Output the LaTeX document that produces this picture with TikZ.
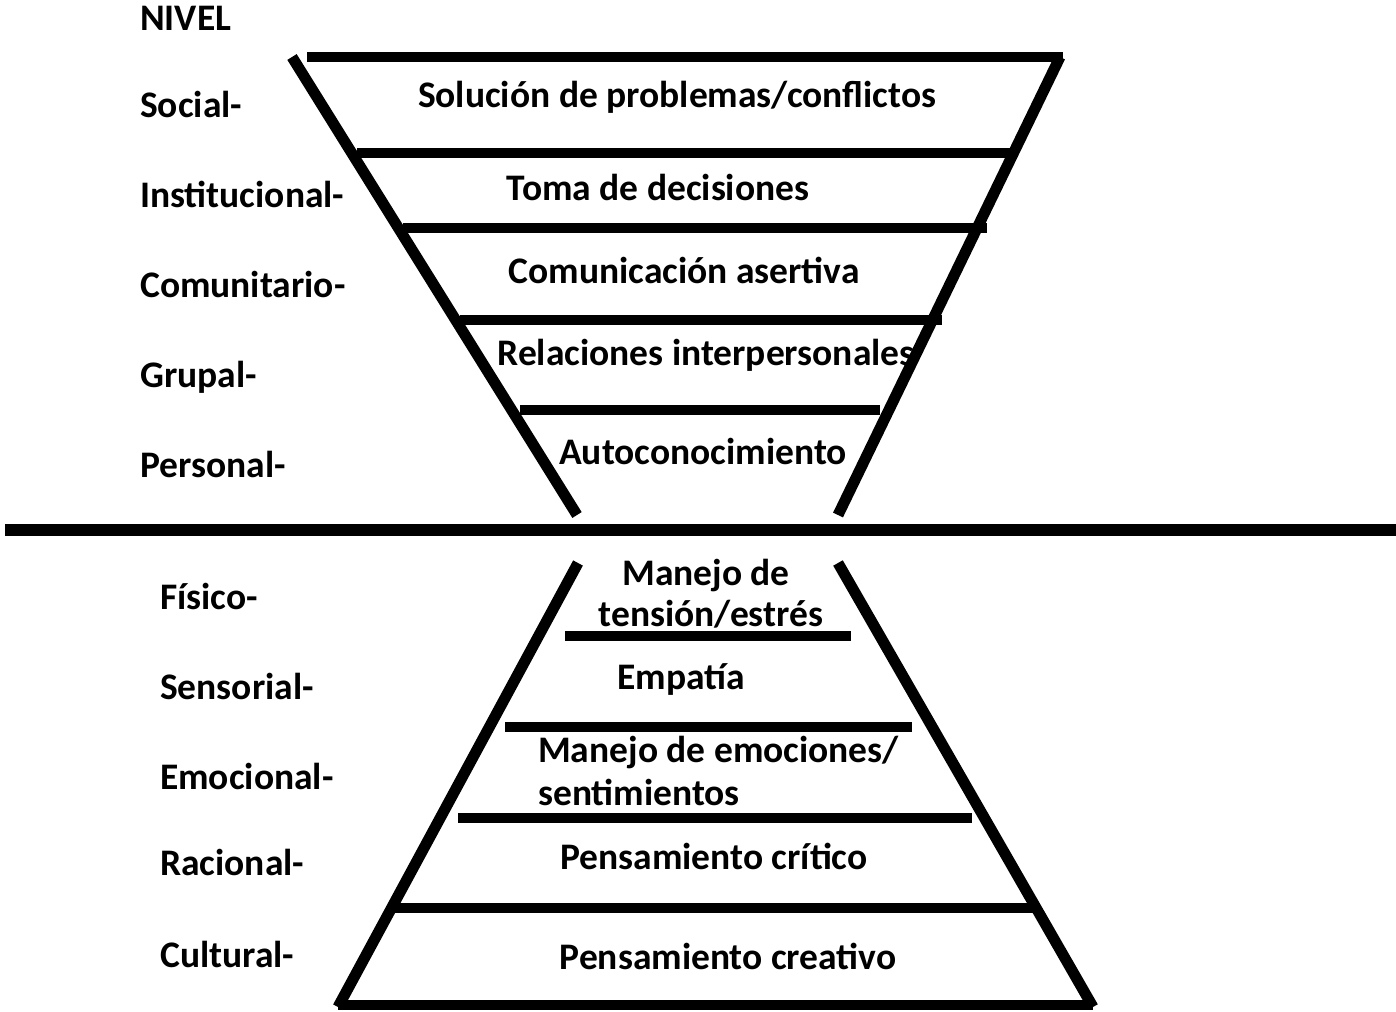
\documentclass[tikz,border=0pt]{standalone}
\usepackage{fontspec}
\setmainfont{Carlito}
\begin{document}
\begin{tikzpicture}[x=1pt,y=-1pt,
  lbl/.style={anchor=west,inner sep=0pt,font=\fontsize{37.5}{42}\selectfont\bfseries,text height=24.2pt,text depth=0pt},
  txt/.style={anchor=center,inner sep=0pt,font=\fontsize{37.5}{42}\selectfont\bfseries,text height=24.2pt,text depth=0pt},
  txtl/.style={txt,anchor=west},
  side/.style={line width=11pt},
  bar/.style={line width=10pt}]
\useasboundingbox (0,0) rectangle (1396,1011);
% top funnel
\draw[bar] (307,57) -- (1063,57);
\draw[side] (292,57) -- (577,515);
\draw[side] (1060,57) -- (838,515);
\draw[bar] (357,153) -- (1015,153);
\draw[bar] (403,228) -- (987,228);
\draw[bar] (460,320) -- (942,320);
\draw[bar] (520,410) -- (880,410);
% separator
\draw[line width=12pt] (5,530) -- (1396,530);
% bottom pyramid
\draw[side] (578,563) -- (338,1007);
\draw[side] (838,563) -- (1093,1007);
\draw[bar] (338,1005) -- (1093,1005);
\draw[bar] (395,908) -- (1033,908);
\draw[bar] (458,818) -- (972,818);
\draw[bar] (505,727) -- (912,727);
\draw[bar] (565,636) -- (851,636);
% left labels
\node[lbl] (nivel) at (140,18) {NIVEL};
\node[lbl] (social) at (140,105) {Social-};
\node[lbl] (inst) at (140,195) {Institucional-};
\node[lbl] (comu) at (140,285) {Comunitario-};
\node[lbl] (grup) at (140,375) {Grupal-};
\node[lbl] (pers) at (140,465) {Personal-};
\node[lbl] (fis) at (160,597) {Físico-};
\node[lbl] (sens) at (160,687) {Sensorial-};
\node[lbl] (emo) at (160,777) {Emocional-};
\node[lbl] (rac) at (160,863) {Racional-};
\node[lbl] (cult) at (160,955) {Cultural-};
% inner texts
\node[txt] (t1) at (677,95) {Solución de problemas/conflictos};
\node[txt] (t2) at (658,188) {Toma de decisiones};
\node[txt] (t3) at (684,271) {Comunicación asertiva};
\node[txt] (t4) at (706,353) {Relaciones interpersonales};
\node[txt] (t5) at (703,452) {Autoconocimiento};
\node[txt] (b1a) at (706,573) {Manejo de};
\node[txt] (b1b) at (711,614) {tensión/estrés};
\node[txt] (b2) at (681,677) {Empatía};
\node[txtl] (b3a) at (538,750) {Manejo de emociones/};
\node[txtl] (b3b) at (538,793) {sentimientos};
\node[txt] (b4) at (714,857) {Pensamiento crítico};
\node[txt] (b5) at (728,957) {Pensamiento creativo};
\end{tikzpicture}
\end{document}
